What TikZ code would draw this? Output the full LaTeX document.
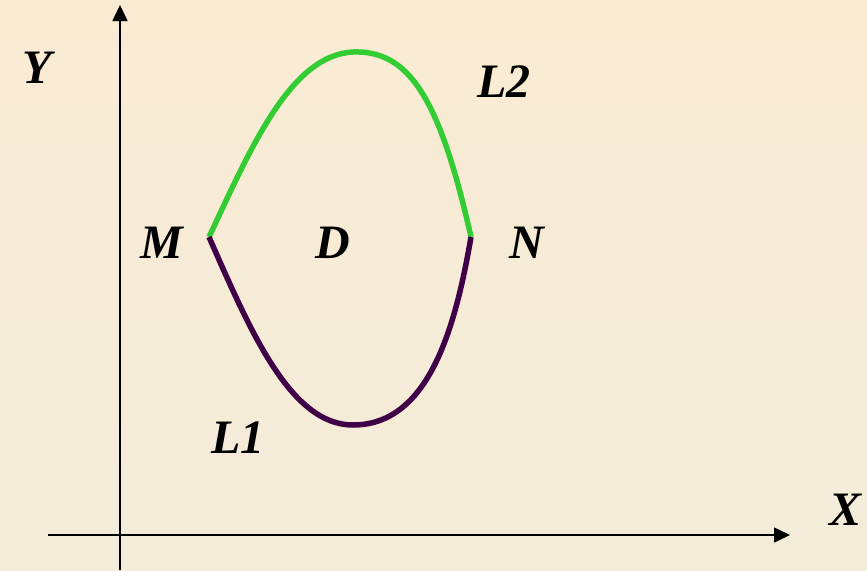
\documentclass[tikz,border=0pt]{standalone}
\usepackage{fontspec}
\setmainfont{Liberation Serif}
\usetikzlibrary{arrows.meta}
\definecolor{bgtop}{RGB}{250,235,211}
\definecolor{bgbot}{RGB}{242,236,217}
\definecolor{lgreen}{RGB}{51,204,51}
\definecolor{lpurple}{RGB}{64,0,72}
\begin{document}
\begin{tikzpicture}[x=1pt,y=-1pt,
  lbl/.style={font=\fontsize{48}{48}\selectfont\bfseries\itshape, inner sep=0pt},
  axis/.style={line width=1.6pt,-{Triangle[length=16pt,width=15pt]}},
  curve/.style={line width=5.5pt}]
\useasboundingbox (0,0) rectangle (867,570);
\shade[top color=bgtop,bottom color=bgbot] (0,0) rectangle (867,570);
\coordinate (yb) at (120,570);
\coordinate (yt) at (120,5);
\coordinate (xl) at (48,535);
\coordinate (xr) at (790,535);
\draw[axis] (yb) -- (yt);
\draw[axis] (xl) -- (xr);
\coordinate (M) at (209,237);
\coordinate (N) at (471,237);
\coordinate (T) at (353,52);
\coordinate (B) at (353,425);
\draw[curve,lgreen] (M) .. controls (250,150) and (290,55) .. (T) .. controls (410,50) and (440,100) .. (N);
\draw[curve,lpurple] (M) .. controls (250,330) and (290,425) .. (B) .. controls (428,425) and (455,330) .. (N);
\node[lbl] (lY) at (37,68) {Y};
\node[lbl] (lM) at (162,243) {M};
\node[lbl] (lD) at (333,243) {D};
\node[lbl] (lN) at (527,243) {N};
\node[lbl] (lL2) at (504,82) {L2};
\node[lbl] (lL1) at (238,438) {L1};
\node[lbl] (lX) at (845,510) {X};
\end{tikzpicture}
\end{document}
